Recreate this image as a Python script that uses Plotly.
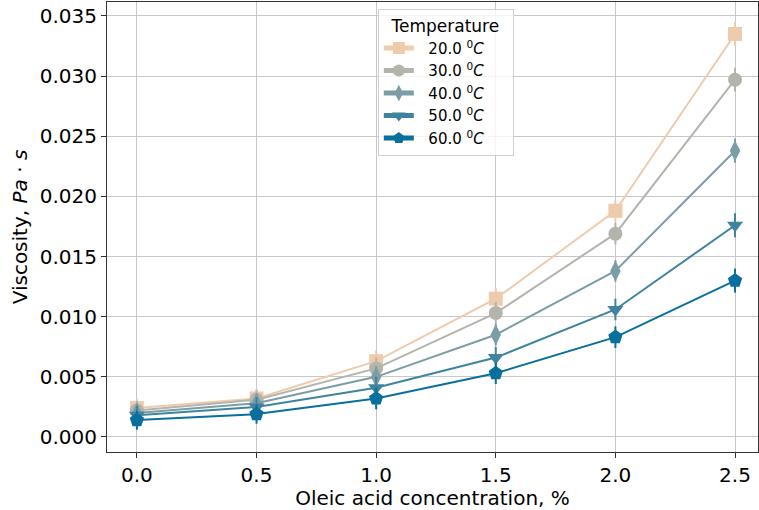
import plotly.graph_objects as go

conc = [0.0, 0.5, 1.0, 1.5, 2.0, 2.5]
temps = ["20.0", "30.0", "40.0", "50.0", "60.0"]
visc_20 = [0.0024, 0.0032, 0.0063, 0.0115, 0.0188, 0.0335]
visc_30 = [0.0022, 0.0031, 0.0057, 0.0103, 0.0169, 0.0297]
visc_40 = [0.0020, 0.0028, 0.0050, 0.0085, 0.0138, 0.0238]
visc_50 = [0.0018, 0.0025, 0.0041, 0.0066, 0.0106, 0.0176]
visc_60 = [0.0014, 0.0019, 0.0032, 0.0053, 0.0083, 0.0130]
err = [0.0008, 0.0008, 0.0009, 0.0009, 0.0009, 0.0010]
series = [visc_20, visc_30, visc_40, visc_50, visc_60]
colors = ["#EFCBAE", "#B3B5AC", "#7B9DA6", "#3F849F", "#096F9C"]
symbols = ["square", "circle", "diamond-tall", "triangle-down", "pentagon"]
sizes = [14, 14, 15, 14, 15]

NB = "\u00a0"
fig = go.Figure()
for t, ys, c, s, sz in zip(temps, series, colors, symbols, sizes):
    fig.add_trace(go.Scatter(
        x=conc, y=ys, mode="lines+markers",
        name=f"{NB*2}{t} <sup>0</sup><i>C</i>{NB*5}",
        line=dict(color=c, width=2),
        marker=dict(symbol=s, size=sz, color=c),
        error_y=dict(type="data", array=err, color=c, thickness=2, width=0),
    ))

axis_common = dict(
    showline=True, linecolor="#333333", linewidth=1, mirror=True,
    ticks="outside", ticklen=5, tickcolor="#333333",
    showgrid=True, gridcolor="#c8c8c8", gridwidth=1, zeroline=False,
    tickfont=dict(size=20, color="black"),
)
fig.update_layout(
    width=759, height=510,
    margin=dict(l=107, r=1, t=2, b=58),
    paper_bgcolor="white", plot_bgcolor="white",
    font=dict(family="DejaVu Sans", color="black"),
    xaxis=dict(range=[-0.125, 2.596], tickvals=conc, ticktext=[f"{v:.1f}" for v in conc],
               title=dict(text="Oleic acid concentration, %", font=dict(size=20), standoff=4),
               **axis_common),
    yaxis=dict(range=[-0.00125, 0.03616], tickvals=[0, 0.005, 0.01, 0.015, 0.02, 0.025, 0.03, 0.035],
               tickformat=".3f",
               title=dict(text="Viscosity, <i>Pa</i> · <i>s</i>", font=dict(size=20), standoff=6),
               **axis_common),
    legend=dict(
        title=dict(text="Temperature", font=dict(size=17), side="top center"),
        x=0.416, y=0.985, xanchor="left", yanchor="top",
        bgcolor="rgba(255,255,255,0.8)", bordercolor="#d0d0d0", borderwidth=1,
        font=dict(size=15), tracegroupgap=0, itemsizing="constant",
    ),
)
fig.write_html("out.html")
